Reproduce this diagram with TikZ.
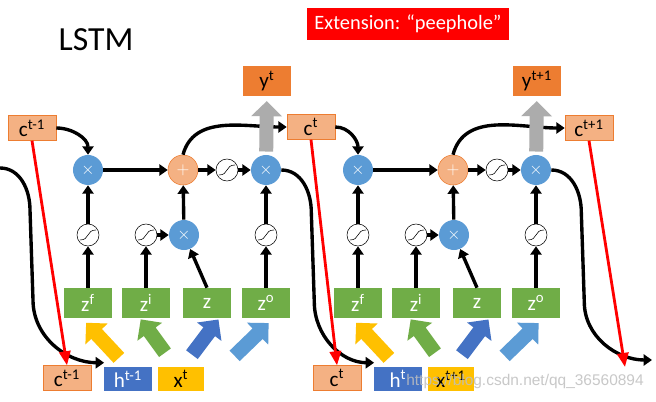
\documentclass[tikz,border=0pt]{standalone}
\usepackage{fontspec}
\setmainfont{Carlito}
\newfontfamily\markfont{Liberation Sans}
\usetikzlibrary{shapes.arrows, arrows.meta}

\definecolor{cfill}{HTML}{F4B183}
\definecolor{cline}{HTML}{ED7D31}
\definecolor{yfill}{HTML}{ED7D31}
\definecolor{zfill}{HTML}{70AD47}
\definecolor{hfill}{HTML}{4472C4}
\definecolor{xfill}{HTML}{FFC000}
\definecolor{mfill}{HTML}{5B9BD5}
\definecolor{redc}{HTML}{FF0000}

\begin{document}
\begin{tikzpicture}
    [
        x=0.025cm, y=0.025cm,
        lbl/.style = {font=\fontsize{15}{15}\selectfont},
        cbox/.style = {lbl, draw=cline, fill=cfill, minimum width=1.2cm, minimum height=0.62cm, inner sep=0pt},
        ybox/.style = {lbl, fill=yfill, minimum width=1.2cm, minimum height=0.75cm, inner sep=0pt},
        zbox/.style = {lbl, fill=zfill, text=white, minimum width=1.22cm, minimum height=0.75cm, inner sep=0pt},
        hbox/.style = {lbl, fill=hfill, text=white, minimum width=1.18cm, minimum height=0.6cm, inner sep=0pt},
        xbox/.style = {lbl, fill=xfill, minimum width=1.16cm, minimum height=0.6cm, inner sep=0pt},
        mul/.style = {circle, fill=mfill, text=white, minimum size=0.75cm, inner sep=0pt, font=\large},
        add/.style = {circle, draw=cline, fill=cfill, text=white, minimum size=0.75cm, inner sep=0pt, font=\large},
        sig/.style = {circle, draw, thin, fill=white, minimum size=0.55cm, inner sep=0pt,
            path picture={\draw[thin, shift={(path picture bounding box.center)}] (-8,-5) .. controls (2,-5) and (-2,5) .. (8,5);}},
        fat/.style = {single arrow, draw=none, inner xsep=0pt, inner ysep=0.175cm, single arrow head extend=0.2cm, single arrow head indent=0pt},
        flow/.style = {line width=2.4pt, -{Triangle[length=6pt,width=8pt]}},
        peep/.style = {redc, line width=2pt, -{Triangle[length=10pt,width=8pt]}},
    ]

    \path[use as bounding box, fill=white] (0,0) rectangle (656,401);

    \node[font=\fontsize{24}{24}\selectfont] (title) at (96,361) {LSTM};
    \node[fill=redc, text=white, minimum width=5.05cm, minimum height=0.8cm, font=\fontsize{14.5}{14.5}\selectfont] (ext) at (408,377) {Extension: “peephole”};

    \node[cbox] (ctop0) at (32,273)  {c\textsuperscript{t-1}};
    \node[cbox] (ctop1) at (311,274) {c\textsuperscript{t}};
    \node[cbox] (ctop2) at (589,273) {c\textsuperscript{t+1}};

    % one block per time step
    \foreach \i/\dx/\cl/\hl/\xl/\yl in {1/0/t-1/t-1/t/t, 2/270/t/t/t+1/t+1}
    {
        \begin{scope}[shift={(\dx,0)}]
            \node[ybox] (y\i)   at (267,320) {y\textsuperscript{\yl}};
            \node[mul]  (mf\i)  at (88,231)  {$\times$};
            \node[add]  (add\i) at (183,231) {$+$};
            \node[sig]  (sc\i)  at (227,231) {};
            \node[mul]  (mo\i)  at (266,231) {$\times$};
            \node[sig]  (sf\i)  at (88,166)  {};
            \node[sig]  (si\i)  at (146,166) {};
            \node[mul]  (mi\i)  at (184,166) {$\times$};
            \node[sig]  (so\i)  at (266,166) {};
            \node[zbox] (zf\i)  at (88,98)   {z\textsuperscript{f}};
            \node[zbox] (zi\i)  at (146,98)  {z\textsuperscript{i}};
            \node[zbox] (zz\i)  at (207,98)  {z};
            \node[zbox] (zo\i)  at (266,98)  {z\textsuperscript{o}};
            \node[fat, fill=xfill, rotate=133, minimum height=1.2cm]  (af\i) at (105,58) {};
            \node[fat, fill=zfill, rotate=126, minimum height=1.03cm] (ai\i) at (155,62) {};
            \node[fat, fill=hfill, rotate=53,  minimum height=1.1cm]  (az\i) at (203,61) {};
            \node[fat, fill=mfill, rotate=44,  minimum height=1.18cm] (ao\i) at (249,59) {};
            \node[cbox] (cbot\i) at (67,23)  {c\textsuperscript{\cl}};
            \node[hbox] (h\i)    at (128,22) {h\textsuperscript{\hl}};
            \node[xbox] (x\i)    at (181,22) {x\textsuperscript{\xl}};
        \end{scope}

        \pgfmathtruncatemacro\p{\i-1}
        \draw[flow] (ctop\p.east) to[out=0,in=90] (mf\i.north);
        \draw[flow] (mf\i) -- (add\i);
        \draw[flow] (add\i) -- (sc\i);
        \draw[flow] (sc\i) -- (mo\i);
        \draw[flow] (add\i.north) to[out=75,in=180] (ctop\i.west);
        \draw[flow] (zf\i) -- (sf\i);
        \draw[flow] (sf\i) -- (mf\i);
        \draw[flow] (zi\i) -- (si\i);
        \draw[flow] (si\i) -- (mi\i);
        \draw[flow] (zz\i.north) -- (mi\i);
        \draw[flow] (mi\i) -- (add\i);
        \draw[flow] (zo\i) -- (so\i);
        \draw[flow] (so\i) -- (mo\i);
        \draw[gray!65, line width=0.35cm, -{Triangle[length=0.38cm,width=0.75cm]}, shorten <=0.08cm, shorten >=0.12cm] (mo\i) -- (y\i);
    }

    \coordinate (in0) at (0,233);
    \coordinate (hn0) at ([yshift=0.1cm]h1.north west);
    \coordinate (hn1) at ([yshift=0.1cm]h2.north west);
    \coordinate (hn2) at (652,41);
    \coordinate (cend) at (625,34);

    % h passed on to the next step
    \foreach \s/\t in {in0/hn0, mo1.east/hn1, mo2.east/hn2}
        \draw[flow] (\s) to[out=0,in=90] ++(30,-42) -- ++(3,-90) to[out=-90,in=180] (\t);

    % c passed on to the next step
    \foreach \s/\t in {ctop0/cbot1.north, ctop1/cbot2.north, ctop2/cend}
        \draw[peep] (\s.south) -- (\t);

    \node[text=gray!50, opacity=0.85, font=\markfont\fontsize{11}{11}\selectfont] (mark) at (525,20) {https://blog.csdn.net/qq\_36560894};
\end{tikzpicture}
\end{document}
